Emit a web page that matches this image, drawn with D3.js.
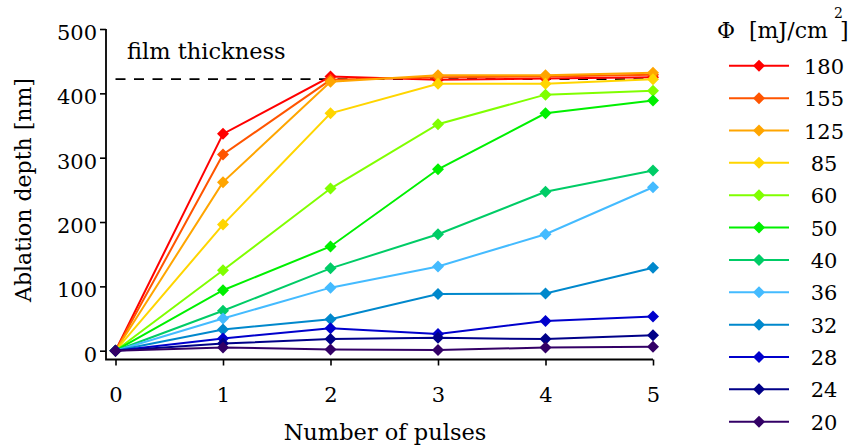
<!DOCTYPE html>
<html><head><meta charset="utf-8">
<script src="https://cdn.jsdelivr.net/npm/d3@7"></script>
<style>
body{margin:0;background:#fff;}
svg text{font-family:"DejaVu Serif",serif;fill:#000;}
</style></head>
<body><svg id="c" width="853" height="445"></svg>
<script>
const pulses = [0, 1, 2, 3, 4, 5];
const fluences = ["180", "155", "125", "85", "60", "50", "40", "36", "32", "28", "24", "20"];
const colors = ["#ff0000", "#ff5500", "#ffa500", "#ffd500", "#80ff00", "#00f000", "#00cc66", "#44bbff", "#0088cc", "#0000cc", "#000088", "#330066"];
const depth180 = [0, 337, 426, 421, 423, 425];
const depth155 = [0, 305, 421, 425, 426, 429];
const depth125 = [0, 262, 418, 428, 428, 432];
const depth85  = [0, 196, 369, 415, 415, 422];
const depth60  = [0, 125, 252, 352, 398, 404];
const depth50  = [0, 94, 162, 282, 369, 389];
const depth40  = [0, 62, 128, 181, 247, 280];
const depth36  = [0, 50, 98, 131, 181, 254];
const depth32  = [0, 33, 49, 88, 89, 129];
const depth28  = [0, 19, 35, 26, 46, 53];
const depth24  = [0, 11, 18, 20, 18, 24];
const depth20  = [0, 5, 2, 1, 5, 6];
const filmThickness = 422;
const yTicks = [0, 100, 200, 300, 400, 500];
const xTicks = [0, 1, 2, 3, 4, 5];

const seriesValues = [depth180, depth155, depth125, depth85, depth60, depth50, depth40, depth36, depth32, depth28, depth24, depth20];
const series = fluences.map((f, i) => ({name: f, color: colors[i], values: seriesValues[i]}));

const svg = d3.select("#c");
const x = d3.scaleLinear().domain([0, 5]).range([115.5, 653]);
const y = d3.scaleLinear().domain([0, 500]).range([350.7, 29]);
const axisX0 = 106, axisY0 = 359.5;

// axes
const yAxis = svg.append("g").attr("transform", `translate(${axisX0},0)`)
  .call(d3.axisLeft(y).tickValues(yTicks).tickSize(6).tickPadding(3).tickFormat(d3.format("d")));
yAxis.select(".domain").remove();
yAxis.selectAll("line").attr("stroke", "#000").attr("stroke-width", 1.6);
yAxis.selectAll("text").attr("font-size", 21).attr("dy", "0.5em").attr("font-family", "DejaVu Serif");

const xAxis = svg.append("g").attr("transform", `translate(0,${axisY0})`)
  .call(d3.axisBottom(x).tickValues(xTicks).tickSize(6).tickPadding(22).tickFormat(d3.format("d")));
xAxis.select(".domain").remove();
xAxis.selectAll("line").attr("stroke", "#000").attr("stroke-width", 1.6);
xAxis.selectAll("text").attr("font-size", 21).attr("font-family", "DejaVu Serif");

svg.append("path").attr("d", `M${axisX0},${y(500)}V${axisY0}H${x(5)}`)
  .attr("fill", "none").attr("stroke", "#000").attr("stroke-width", 1.8);

svg.append("text").attr("x", 385).attr("y", 440).attr("text-anchor", "middle")
  .attr("font-size", 22.5).text("Number of pulses");
svg.append("text").attr("transform", "translate(31,190) rotate(-90)").attr("text-anchor", "middle")
  .attr("font-size", 22).text("Ablation depth [nm]");

// film thickness
svg.append("line").attr("x1", x(0)).attr("x2", x(5)).attr("y1", y(filmThickness)).attr("y2", y(filmThickness))
  .attr("stroke", "#000").attr("stroke-width", 1.8).attr("stroke-dasharray", "10,8.5");
svg.append("text").attr("x", 127).attr("y", 59).attr("font-size", 22.5).text("film thickness");

const diamond = "M0,-6L6,0L0,6L-6,0Z";
const line = d3.line().x((d, i) => x(pulses[i])).y(d => y(d));

series.forEach(s => {
  const g = svg.append("g");
  g.append("path").attr("d", line(s.values)).attr("fill", "none")
    .attr("stroke", s.color).attr("stroke-width", 2);
  g.selectAll("path.m").data(s.values).enter().append("path").attr("class", "m")
    .attr("d", diamond).attr("fill", s.color)
    .attr("transform", (d, i) => `translate(${x(pulses[i])},${y(d)})`);
});

// legend
const lg = svg.append("g");
lg.append("text").attr("x", 717).attr("y", 38).attr("font-size", 22).text("Φ");
lg.append("text").attr("x", 749).attr("y", 38).attr("font-size", 22).text("[mJ/cm");
lg.append("text").attr("x", 834).attr("y", 18).attr("font-size", 14).text("2");
lg.append("text").attr("x", 840).attr("y", 38).attr("font-size", 22).text("]");
const rowY = d3.scaleLinear().domain([0, 11]).range([65.8, 421.7]);
series.forEach((s, i) => {
  const yy = rowY(i);
  lg.append("line").attr("x1", 729).attr("x2", 789).attr("y1", yy).attr("y2", yy)
    .attr("stroke", s.color).attr("stroke-width", 2);
  lg.append("path").attr("d", diamond).attr("fill", s.color).attr("transform", `translate(759,${yy})`);
  lg.append("text").attr("x", 824).attr("y", yy + 8).attr("text-anchor", "middle")
    .attr("font-size", 21).text(s.name);
});
</script></body></html>
